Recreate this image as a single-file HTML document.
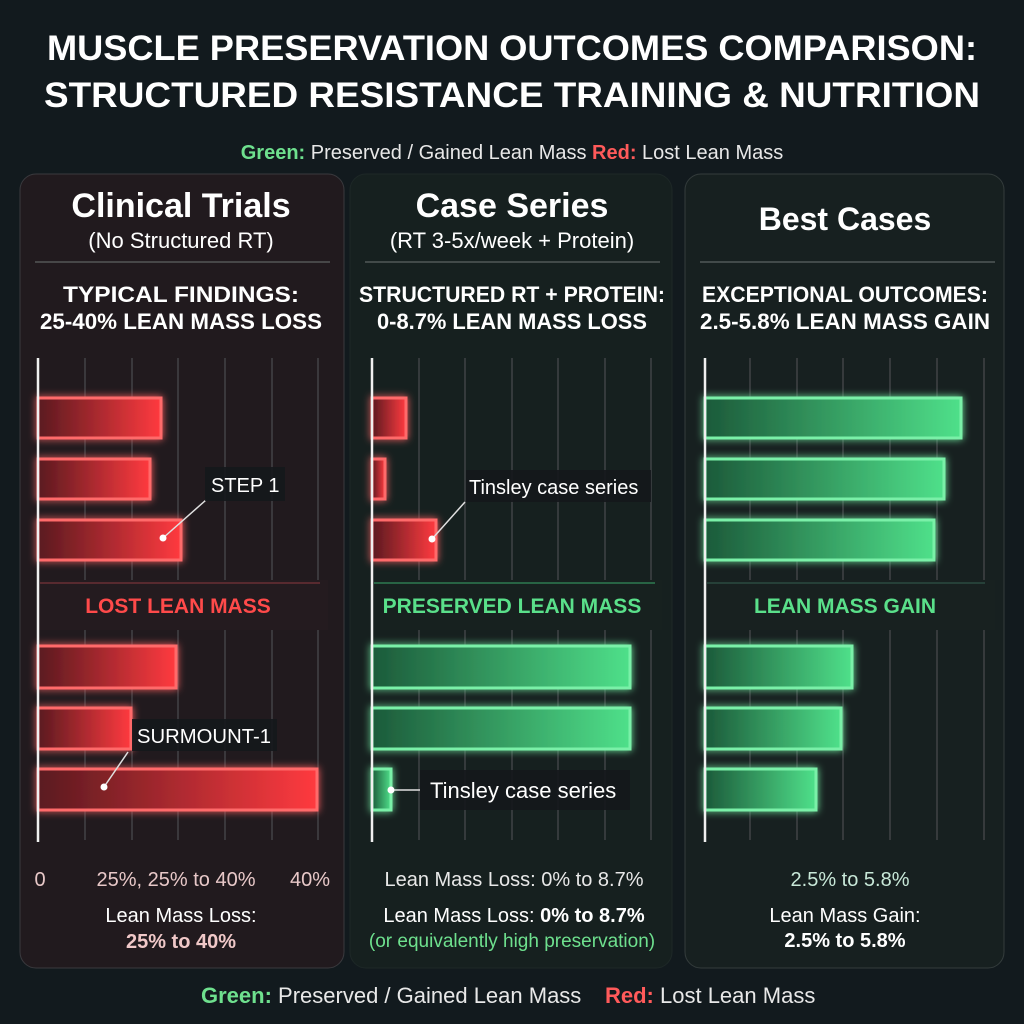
<!DOCTYPE html>
<html><head><meta charset="utf-8"><style>
html,body{margin:0;padding:0;background:#121a1e;}
svg{display:block}
text{font-family:"Liberation Sans",sans-serif;}
</style></head><body>
<svg width="1024" height="1024" viewBox="0 0 1024 1024" xmlns="http://www.w3.org/2000/svg">
<defs>
<linearGradient id="rg" x1="0" x2="1" y1="0" y2="0"><stop offset="0" stop-color="#5a1a20"/><stop offset="1" stop-color="#ff3a3f"/></linearGradient>
<linearGradient id="gg" x1="0" x2="1" y1="0" y2="0"><stop offset="0" stop-color="#1c5a3a"/><stop offset="1" stop-color="#4fe08a"/></linearGradient>
<filter id="glow" x="-20%" y="-50%" width="140%" height="200%"><feGaussianBlur stdDeviation="4" result="b"/><feMerge><feMergeNode in="b"/><feMergeNode in="SourceGraphic"/></feMerge></filter>
</defs>
<rect width="1024" height="1024" fill="#121a1e"/>
<g fill="#fff" font-weight="bold" text-anchor="middle" font-size="35">
<text x="512" y="60" textLength="930" lengthAdjust="spacingAndGlyphs">MUSCLE PRESERVATION OUTCOMES COMPARISON:</text>
<text x="512" y="107" textLength="936" lengthAdjust="spacingAndGlyphs">STRUCTURED RESISTANCE TRAINING &amp; NUTRITION</text>
</g>
<text x="512" y="159" font-size="20" fill="#e8e8e8" text-anchor="middle"><tspan fill="#6ee08e" font-weight="bold">Green:</tspan> Preserved / Gained Lean Mass  <tspan fill="#ff5a5a" font-weight="bold">Red:</tspan> Lost Lean Mass</text>

<rect x="20" y="174" width="324" height="794" rx="16" fill="#211a1e" stroke="#3a3a3e"/>
<rect x="350" y="174" width="322" height="794" rx="16" fill="#16201f" stroke="#1e2827"/>
<rect x="685" y="174" width="319" height="794" rx="16" fill="#172020" stroke="#343c3c"/>

<g fill="#fff" text-anchor="middle">
<text x="181" y="217" font-size="34" font-weight="bold">Clinical Trials</text>
<text x="181" y="248" font-size="22">(No Structured RT)</text>
<text x="512" y="217" font-size="34" font-weight="bold">Case Series</text>
<text x="512" y="248" font-size="22">(RT 3-5x/week + Protein)</text>
<text x="845" y="230" font-size="32" font-weight="bold">Best Cases</text>
<g font-size="22" font-weight="bold">
<text x="181" y="302" textLength="236" lengthAdjust="spacingAndGlyphs">TYPICAL FINDINGS:</text>
<text x="181" y="329" textLength="282" lengthAdjust="spacingAndGlyphs">25-40% LEAN MASS LOSS</text>
<text x="512" y="302" textLength="306" lengthAdjust="spacingAndGlyphs">STRUCTURED RT + PROTEIN:</text>
<text x="512" y="329" textLength="270" lengthAdjust="spacingAndGlyphs">0-8.7% LEAN MASS LOSS</text>
<text x="845" y="302" textLength="286" lengthAdjust="spacingAndGlyphs">EXCEPTIONAL OUTCOMES:</text>
<text x="845" y="329" textLength="290" lengthAdjust="spacingAndGlyphs">2.5-5.8% LEAN MASS GAIN</text>
</g></g>
<g stroke="#6a7070" stroke-width="1.5" opacity="0.7">
<line x1="35" y1="262" x2="330" y2="262"/><line x1="365" y1="262" x2="660" y2="262"/><line x1="700" y1="262" x2="995" y2="262"/>
</g>

<g stroke="#4a4c50" stroke-width="1.2">
<line x1="85" y1="358" x2="85" y2="840"/><line x1="132" y1="358" x2="132" y2="840"/><line x1="178" y1="358" x2="178" y2="840"/><line x1="225" y1="358" x2="225" y2="840"/><line x1="272" y1="358" x2="272" y2="840"/><line x1="318" y1="358" x2="318" y2="840"/>
<line x1="419" y1="358" x2="419" y2="840"/><line x1="465" y1="358" x2="465" y2="840"/><line x1="512" y1="358" x2="512" y2="840"/><line x1="558" y1="358" x2="558" y2="840"/><line x1="605" y1="358" x2="605" y2="840"/><line x1="651" y1="358" x2="651" y2="840"/>
<line x1="750" y1="358" x2="750" y2="840"/><line x1="797" y1="358" x2="797" y2="840"/><line x1="843" y1="358" x2="843" y2="840"/><line x1="890" y1="358" x2="890" y2="840"/><line x1="937" y1="358" x2="937" y2="840"/><line x1="984" y1="358" x2="984" y2="840"/>
</g>
<rect x="38" y="580" width="290" height="50" fill="#241b1f"/>
<rect x="372" y="580" width="290" height="50" fill="#17211f"/>
<rect x="705" y="580" width="290" height="50" fill="#182120"/>
<g stroke-width="1.5"><line x1="40" y1="583" x2="320" y2="583" stroke="#6a3035"/><line x1="374" y1="583" x2="655" y2="583" stroke="#2e7a50"/><line x1="707" y1="583" x2="985" y2="583" stroke="#2a4a40"/></g>
<g font-size="21" font-weight="bold" text-anchor="middle">
<text x="178" y="613" fill="#ff4a4a">LOST LEAN MASS</text>
<text x="512" y="613" fill="#5ae08a">PRESERVED LEAN MASS</text>
<text x="845" y="613" fill="#5ae08a">LEAN MASS GAIN</text>
</g>

<g filter="url(#glow)" stroke-width="3">
<g fill="url(#rg)" stroke="#ff6a6a">
<rect x="38" y="398" width="123" height="40"/><rect x="38" y="459" width="112" height="40"/><rect x="38" y="520" width="143" height="40"/>
<rect x="38" y="646" width="138" height="42"/><rect x="38" y="708" width="93" height="41"/><rect x="38" y="769" width="279" height="41"/>
<rect x="372" y="398" width="34" height="40"/><rect x="372" y="459" width="13" height="40"/><rect x="372" y="520" width="64" height="40"/>
</g>
<g fill="url(#gg)" stroke="#7af0a8">
<rect x="372" y="646" width="258" height="42"/><rect x="372" y="708" width="258" height="41"/><rect x="372" y="769" width="19" height="41"/>
<rect x="705" y="398" width="256" height="40"/><rect x="705" y="459" width="239" height="40"/><rect x="705" y="520" width="229" height="40"/>
<rect x="705" y="646" width="147" height="42"/><rect x="705" y="708" width="136" height="41"/><rect x="705" y="769" width="111" height="41"/>
</g></g>
<g stroke="#f0f0f0" stroke-width="2.5"><line x1="38" y1="358" x2="38" y2="842"/><line x1="372" y1="358" x2="372" y2="842"/><line x1="705" y1="358" x2="705" y2="842"/></g>

<g stroke="#e0e0e0" stroke-width="1.5" fill="none">
<polyline points="163,538 206,500"/><polyline points="432,539 465,502"/><polyline points="104,787 128,752"/><polyline points="391,790 420,790"/>
</g>
<g fill="#fff"><circle cx="163" cy="538" r="3.5"/><circle cx="432" cy="539" r="3.5"/><circle cx="104" cy="787" r="3.5"/><circle cx="391" cy="790" r="3.5"/></g>
<g fill="#15181b" opacity="0.92">
<rect x="205" y="467" width="80" height="34"/><rect x="466" y="470" width="185" height="32"/><rect x="132" y="719" width="145" height="32"/><rect x="420" y="770" width="210" height="40"/>
</g>
<g fill="#fff" font-size="20">
<text x="211" y="492">STEP 1</text>
<text x="469" y="494">Tinsley case series</text>
<text x="137" y="743" textLength="134" lengthAdjust="spacingAndGlyphs">SURMOUNT-1</text>
<text x="430" y="798" font-size="22">Tinsley case series</text>
</g>

<g font-size="20" text-anchor="middle">
<text x="40" y="886" fill="#e8c8c8">0</text>
<text x="176" y="886" fill="#e8c8c8">25%, 25% to 40%</text>
<text x="310" y="886" fill="#e8c8c8">40%</text>
<text x="181" y="922" fill="#fff">Lean Mass Loss:</text>
<text x="181" y="948" fill="#f0c8c8" font-weight="bold">25% to 40%</text>
<text x="514" y="886" fill="#e8e8e8">Lean Mass Loss: 0% to 8.7%</text>
<text x="514" y="922" fill="#fff">Lean Mass Loss: <tspan font-weight="bold">0% to 8.7%</tspan></text>
<text x="512" y="947" fill="#6ee08e" font-size="19">(or equivalently high preservation)</text>
<text x="850" y="886" fill="#c8e8d8">2.5% to 5.8%</text>
<text x="845" y="922" fill="#fff">Lean Mass Gain:</text>
<text x="845" y="947" fill="#fff" font-weight="bold">2.5% to 5.8%</text>
</g>
<text x="201" y="1003" font-size="22" fill="#e8e8e8"><tspan fill="#6ee08e" font-weight="bold">Green:</tspan> Preserved / Gained Lean Mass</text>
<text x="605" y="1003" font-size="22" fill="#e8e8e8"><tspan fill="#ff5a5a" font-weight="bold">Red:</tspan> Lost Lean Mass</text>
</svg>
</body></html>
